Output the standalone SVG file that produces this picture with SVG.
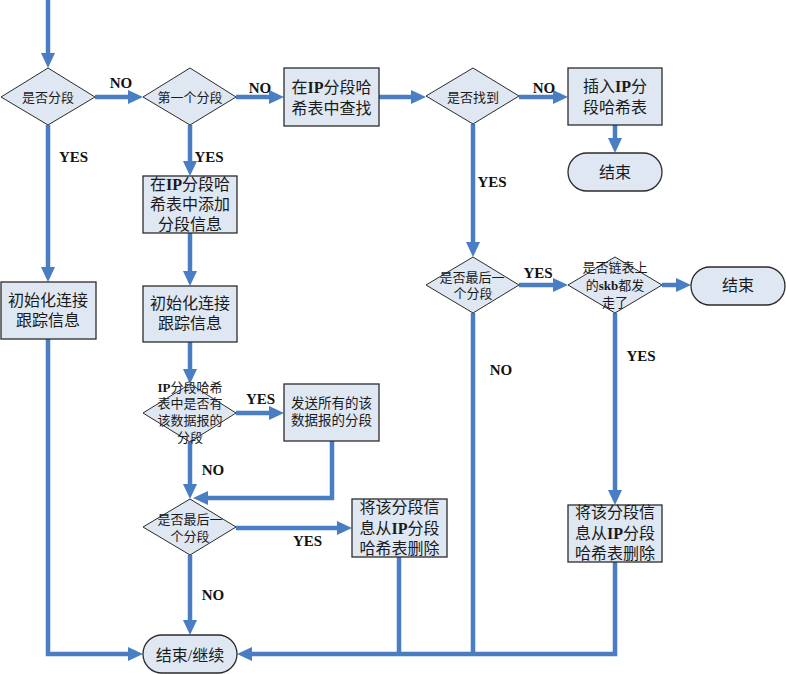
<svg xmlns="http://www.w3.org/2000/svg" width="786" height="674" viewBox="0 0 786 674">
<style>
.shape{fill:#dfe7f3;stroke:#2b2b2b;stroke-width:1.3}
.dia{fill:#dfe7f3;stroke:#2b2b2b;stroke-width:1}
.conn{fill:none;stroke:#4a7ec4;stroke-width:4.5;stroke-linejoin:miter}
.arr{fill:none;stroke:#4a7ec4;stroke-width:4.5;marker-end:url(#ah)}
.t{font-family:"Liberation Serif","Noto Sans CJK SC",serif;font-size:16px;fill:#1a1a1a;text-anchor:middle}
.s{font-size:13px}
.m{font-size:13.5px}
.b{font-family:"Liberation Serif",serif;font-weight:bold}
.lbl{font-family:"Liberation Serif",serif;font-weight:bold;font-size:15px;fill:#111;text-anchor:middle}
</style>
<defs>
<marker id="ah" markerUnits="userSpaceOnUse" markerWidth="16" markerHeight="14" refX="5" refY="7" orient="auto">
<path d="M0,0 L15,7 L0,14 Z" fill="#4a7ec4"/>
</marker>
</defs>
<rect width="786" height="674" fill="#ffffff"/>

<g id="connectors">
<path class="arr" d="M48,0 V58"/>
<path class="arr" d="M95,97 H133"/>
<path class="arr" d="M236,97 H274"/>
<path class="arr" d="M379,97 H416"/>
<path class="arr" d="M519,97 H558"/>
<path class="arr" d="M615,125 V143"/>
<path class="arr" d="M48,125 V272"/>
<path class="arr" d="M190,125 V166"/>
<path class="arr" d="M190,233 V276"/>
<path class="arr" d="M190,342 V374"/>
<path class="arr" d="M236,413 H274"/>
<path class="arr" d="M190,442 V489"/>
<path class="arr" d="M332,441 V498 H203"/>
<path class="arr" d="M236,528 H342"/>
<path class="arr" d="M190,555 V625"/>
<path class="arr" d="M48,339 V654 H133"/>
<path class="arr" d="M473,124 V247"/>
<path class="arr" d="M519,285 H558"/>
<path class="arr" d="M662,285 H681"/>
<path class="arr" d="M615,313 V495"/>
<path class="arr" d="M615,562 V654 H247"/>
<path class="conn" d="M473,313 V654"/>
<path class="conn" d="M399,557 V654"/>
</g>

<g id="n_fenduan">
<polygon class="dia" points="48,68 95,97 48,125 1,97"/>
<text class="t s" x="48" y="102">是否分段</text>
</g>
<g id="n_diyige">
<polygon class="dia" points="190,68 236,97 190,125 143,97"/>
<text class="t s" x="190" y="102">第一个分段</text>
</g>
<g id="n_chazhao">
<rect class="shape" x="284" y="68" width="95" height="58"/>
<text class="t" x="331.5" y="93">在<tspan class="b">IP</tspan>分段哈</text>
<text class="t" x="331.5" y="114">希表中查找</text>
</g>
<g id="n_zhaodao">
<polygon class="dia" points="473,68 519,96 473,124 426,96"/>
<text class="t s" x="473" y="102">是否找到</text>
</g>
<g id="n_charu">
<rect class="shape" x="568" y="68" width="94" height="57"/>
<text class="t" x="615" y="92">插入<tspan class="b">IP</tspan>分</text>
<text class="t" x="615" y="113">段哈希表</text>
</g>
<g id="n_end1">
<rect class="shape" x="568" y="153" width="94" height="38" rx="19" ry="19"/>
<text class="t" x="615" y="178">结束</text>
</g>
<g id="n_tianjia">
<rect class="shape" x="143" y="176" width="94" height="57"/>
<text class="t" x="190" y="190">在<tspan class="b">IP</tspan>分段哈</text>
<text class="t" x="190" y="210">希表中添加</text>
<text class="t" x="190" y="230">分段信息</text>
</g>
<g id="n_init1">
<rect class="shape" x="1" y="282" width="95" height="57"/>
<text class="t" x="48" y="306">初始化连接</text>
<text class="t" x="48" y="326">跟踪信息</text>
</g>
<g id="n_init2">
<rect class="shape" x="143" y="286" width="94" height="56"/>
<text class="t" x="190" y="309">初始化连接</text>
<text class="t" x="190" y="329">跟踪信息</text>
</g>
<g id="n_youfenduan">
<polygon class="dia" points="190,384 236,413 190,442 143,413"/>
<text class="t s" x="190" y="392"><tspan class="b">IP</tspan>分段哈希</text>
<text class="t s" x="190" y="408">表中是否有</text>
<text class="t s" x="190" y="425">该数据报的</text>
<text class="t s" x="190" y="442">分段</text>
</g>
<g id="n_fasong">
<rect class="shape" x="284" y="384" width="95" height="57"/>
<text class="t m" x="331.5" y="408">发送所有的该</text>
<text class="t m" x="331.5" y="425">数据报的分段</text>
</g>
<g id="n_zuihou1">
<polygon class="dia" points="190,499 236,527 190,555 143,527"/>
<text class="t s" x="190" y="524">是否最后一</text>
<text class="t s" x="190" y="541">个分段</text>
</g>
<g id="n_shanchu1">
<rect class="shape" x="352" y="499" width="95" height="58"/>
<text class="t" x="399.5" y="513">将该分段信</text>
<text class="t" x="399.5" y="534">息从<tspan class="b">IP</tspan>分段</text>
<text class="t" x="399.5" y="554">哈希表删除</text>
</g>
<g id="n_end2">
<rect class="shape" x="143" y="635" width="94" height="38" rx="19" ry="19"/>
<text class="t" x="190" y="661">结束/继续</text>
</g>
<g id="n_zuihou2">
<polygon class="dia" points="473,257 519,285 473,313 426,285"/>
<text class="t s" x="472" y="282">是否最后一</text>
<text class="t s" x="473" y="298">个分段</text>
</g>
<g id="n_lianbiao">
<polygon class="dia" points="615,257 662,285 615,313 568,285"/>
<text class="t s" x="615" y="272">是否链表上</text>
<text class="t s" x="615" y="290">的<tspan class="b">skb</tspan>都发</text>
<text class="t s" x="615" y="307">走了</text>
</g>
<g id="n_end3">
<rect class="shape" x="691" y="267" width="94" height="38" rx="19" ry="19"/>
<text class="t" x="738" y="291">结束</text>
</g>
<g id="n_shanchu2">
<rect class="shape" x="568" y="505" width="94" height="57"/>
<text class="t" x="615" y="518">将该分段信</text>
<text class="t" x="615" y="539">息从<tspan class="b">IP</tspan>分段</text>
<text class="t" x="615" y="559">哈希表删除</text>
</g>

<g id="labels">
<text class="lbl" x="121" y="88">NO</text>
<text class="lbl" x="260" y="93">NO</text>
<text class="lbl" x="544" y="93">NO</text>
<text class="lbl" x="73.5" y="162">YES</text>
<text class="lbl" x="209" y="162">YES</text>
<text class="lbl" x="492" y="187">YES</text>
<text class="lbl" x="538" y="278">YES</text>
<text class="lbl" x="641" y="361">YES</text>
<text class="lbl" x="501" y="375">NO</text>
<text class="lbl" x="260.5" y="404">YES</text>
<text class="lbl" x="213" y="475">NO</text>
<text class="lbl" x="307.5" y="546">YES</text>
<text class="lbl" x="213" y="600">NO</text>
</g>
</svg>
